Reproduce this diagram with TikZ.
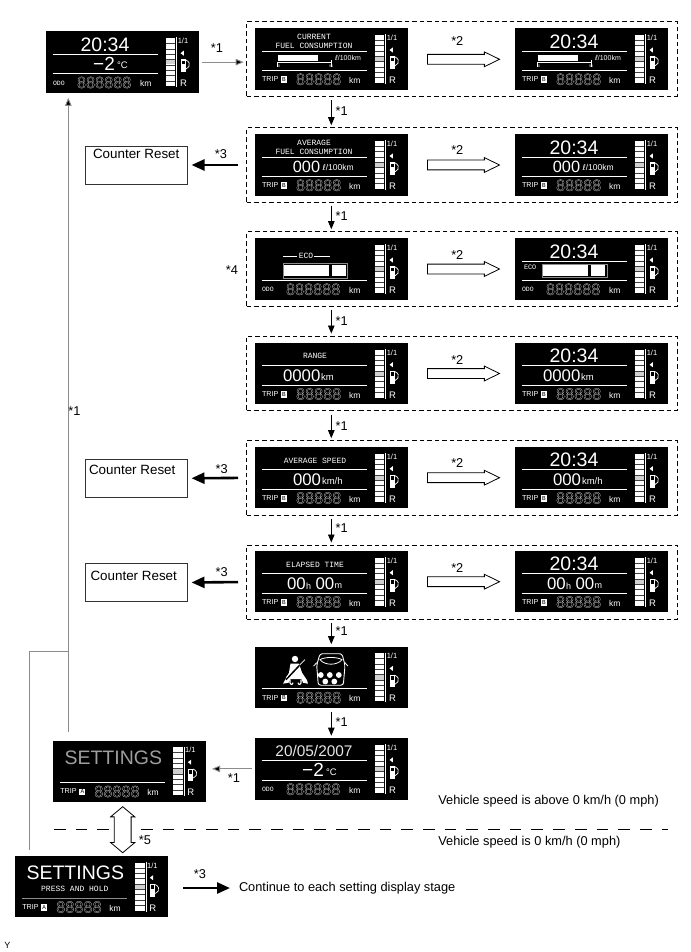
\documentclass[tikz,border=0pt]{standalone}
\usepackage{fontspec}
\usetikzlibrary{arrows.meta,shapes.arrows}
\setmainfont{Liberation Sans}
\newfontfamily\monof{Liberation Mono}
\newfontfamily\symf{DejaVu Sans}
\newcommand\fs[1]{\fontsize{#1}{#1}\selectfont}
\newcommand\outl[1]{\special{pdf:code q 1 Tr 0.22 w}#1\special{pdf:code Q}}
\definecolor{lineg}{HTML}{8C8C8C}
\definecolor{dimw}{HTML}{D0D0D0}
\newcounter{tc}
\tikzset{
  txt/.style={inner sep=0,outer sep=0,text=white},
  lab/.style={inner sep=0,outer sep=0,text=black,font=\fs{12.8}},
  screenbox/.style={fill=black,draw=none,minimum width=153,minimum height=61.3,inner sep=0,outer sep=0,anchor=north west},
  dbox/.style={draw=black,line width=0.9,dash pattern=on 4.5 off 3,minimum width=430.5,inner sep=0,outer sep=0},
  crbox/.style={draw=black!80,line width=0.9,fill=white,minimum width=102,minimum height=38,inner sep=0,outer sep=0},
  blk/.style={draw=black,line width=0.9,-{Triangle[length=8,width=6.5]},shorten <=4,shorten >=2.5},
  gry/.style={draw=lineg,line width=0.9,-{Triangle[length=8,width=6.5,fill=black]}},
  thk/.style={draw=black,line width=2.6,-{Triangle[length=13,width=11]}},
  hollow/.style={single arrow,draw=black,line width=0.8,fill=white,inner sep=0,outer sep=0,minimum width=0,minimum height=72,single arrow head extend=2.5,single arrow tip angle=52},
  hollowd/.style={double arrow,draw=black,line width=0.8,fill=white,inner sep=0,outer sep=0,minimum width=0,minimum height=46,double arrow head extend=3.7,double arrow tip angle=100,shape border rotate=90}
}
\newcommand\tx[4][]{\stepcounter{tc}\node[txt,name=t\arabic{tc},#1] at (#2,#3) {#4};}
\newcommand\lb[3]{\stepcounter{tc}\node[lab,name=t\arabic{tc}] at (#1,#2) {#3};}
% gauge common to all screens
\newcommand\gauge{%
  \fill[white] (120,6.7) rectangle (129.3,54.7);
  \fill[dimw] (120,28) rectangle (129.3,33);
  \foreach \i in {1,...,8}{\fill[black!75] (120,{6.7+\i*5.33-0.3}) rectangle (129.3,{6.7+\i*5.33+0.3});}
  \draw[white,line width=0.8] (130.7,6) -- (130.7,55.5);
  \tx{137}{9.5}{\fs{7.5}1/1}
  \fill[white] (134.5,21.7) -- (137.8,19.2) -- (137.8,24.2) -- cycle;
  \fill[white] (134.5,28) rectangle (139.8,40.5);
  \fill[black] (135.6,29.3) rectangle (138.7,33);
  \draw[white,line width=0.7] (139.8,28.5) .. controls (143.5,30) and (144,33) .. (143,35) -- (140,37.5);
  \tx{137.5}{52}{\fs{9.5}R}
}
\newcommand\lines[2]{\draw[white,line width=0.9] (6.5,#1) -- (112,#1); \draw[white,line width=0.9] (6.5,#2) -- (112,#2);}
\newcommand\lowline[1][white]{\draw[#1,line width=0.9] (6.5,42) -- (112,42);}
\newcommand\lett[1]{\fill[white] (26,48) rectangle (32,54.5); \tx{29}{51.3}{\color{black}\fs{6}\monof #1}}
\newcommand\trip[1]{%
  \tx[anchor=west]{7}{51}{\fs{7.2}TRIP}
  \lett{#1}
  \tx[anchor=west]{41}{51}{\color{white!90!black}\fs{16.3}\outl{88888}}
  \tx[anchor=west]{94}{52}{\fs{8.5}km}
}
\newcommand\odo{%
  \tx[anchor=west]{7}{51.5}{\fs{6.5}\monof ODO}
  \tx[anchor=west]{31}{51}{\color{white!90!black}\fs{16.3}\outl{888888}}
  \tx[anchor=west]{94}{52}{\fs{8.5}km}
}
\newcommand\clock{\tx{59}{13}{\fs{19.5}20:34}}
\newcommand\mt[3]{\tx{#1}{#2}{\monof\fs{8}#3}}
\newcommand\scr[4]{%
  \node[screenbox] (#1) at (#2,#3) {};
  \begin{scope}[shift={(#2,#3)}]\gauge #4\end{scope}
}
\newcommand\fuelbar{%
  \fill[white] (23,27) rectangle (63,33);
  \draw[white,line width=0.7] (23,34) -- (76,34);
  \fill[white] (22.3,34) rectangle (23.3,39); \fill[white] (75.5,32) rectangle (76.5,39);
  \tx{24}{37.5}{\fs{3.5}0}\tx{76}{37.5}{\fs{3.5}90}
  \tx[anchor=west]{80}{30}{\fs{7}{\symf\fs{7}ℓ}/100km}
}
\newcommand\ecobig{%
  \draw[lineg,line width=0.7] (28,25) rectangle (92,40);
  \fill[white] (29,27) rectangle (74,38); \fill[white] (77,27) rectangle (91,38);
}
\newcommand\ecosmall{%
  \draw[lineg,line width=0.7] (27,26) rectangle (92,39);
  \fill[white] (28,27) rectangle (73,38); \fill[white] (76,27) rectangle (90,38);
}
\newcommand\dgroup[3]{\node[dbox,minimum height={#3-#2}] (#1) at (461.9,{(#2+#3)/2}) {};}
\newcommand\shaft{\rule{0pt}{9pt}}
\begin{document}
\begin{tikzpicture}[x=1pt,y=-1pt]
\useasboundingbox[fill=white] (0,0) rectangle (690,952);
% dashed groups
\dgroup{d1}{21.7}{96}
\dgroup{d2}{127.7}{202.3}
\dgroup{d3}{231.7}{306.3}
\dgroup{d4}{336}{410.7}
\dgroup{d5}{440.7}{515}
\dgroup{d6}{545}{619}
% screens
\scr{s0}{46}{31.5}{\lines{23}{42}\clock \tx{58}{32}{\fs{19}−2}\tx[anchor=west]{71}{34}{\fs{9.5}°C}\odo}
\scr{s1a}{255}{28.3}{\lines{22.7}{42}\mt{59}{9}{CURRENT}\mt{59}{17.6}{FUEL CONSUMPTION}\fuelbar\trip{B}}
\scr{s1b}{515}{28.3}{\lines{22.7}{42}\clock\fuelbar\trip{B}}
\scr{s2a}{255}{134.3}{\lines{22.7}{42}\mt{59}{9}{AVERAGE}\mt{59}{17.6}{FUEL CONSUMPTION}\tx{51.5}{32.5}{\fs{16.3}000}\tx[anchor=west]{67.5}{33.5}{\fs{8.5}{\symf\fs{8}ℓ}/100km}\trip{B}}
\scr{s2b}{515}{134.3}{\lines{22.7}{42}\clock\tx{51.5}{32.5}{\fs{16.3}000}\tx[anchor=west]{67.5}{33.5}{\fs{8.5}{\symf\fs{8}ℓ}/100km}\trip{B}}
\scr{s3a}{255}{238.3}{\lowline\draw[white,line width=0.5] (28,18) -- (42,18) (59,18) -- (75,18);\mt{51}{18}{ECO}\ecobig\odo}
\scr{s3b}{515}{238.3}{\lines{22.7}{42}\clock\tx[anchor=west]{9}{29}{\monof\fs{6.8}ECO}\ecosmall\odo}
\scr{s4a}{255}{343}{\lines{22.5}{42}\mt{60}{13}{RANGE}\tx[anchor=west]{28}{33}{\fs{16.8}0000}\tx[anchor=west]{66}{34.5}{\fs{9.5}km}\trip{B}}
\scr{s4b}{515}{343}{\lines{22.5}{42}\clock\tx[anchor=west]{28}{33}{\fs{16.8}0000}\tx[anchor=west]{66}{34.5}{\fs{9.5}km}\trip{B}}
\scr{s5a}{255}{447}{\lines{22.7}{42}\mt{60}{13.5}{AVERAGE SPEED}\tx[anchor=west]{38}{33}{\fs{16.8}000}\tx[anchor=west]{67}{34.5}{\fs{9.5}km/h}\trip{B}}
\scr{s5b}{515}{447}{\lines{22.7}{42}\clock\tx[anchor=west]{38}{33}{\fs{16.8}000}\tx[anchor=west]{67}{34.5}{\fs{9.5}km/h}\trip{B}}
\scr{s6a}{255}{551}{\lines{22.7}{42}\mt{60}{13.5}{ELAPSED TIME}\tx[anchor=west]{32}{33}{\fs{16.8}00}\tx[anchor=west]{51}{35}{\fs{9}h}\tx[anchor=west]{60.5}{33}{\fs{16.8}00}\tx[anchor=west]{79.5}{35}{\fs{9}m}\trip{B}}
\scr{s6b}{515}{551}{\lines{22.7}{42}\clock\tx[anchor=west]{32}{33}{\fs{16.8}00}\tx[anchor=west]{51}{35}{\fs{9}h}\tx[anchor=west]{60.5}{33}{\fs{16.8}00}\tx[anchor=west]{79.5}{35}{\fs{9}m}\trip{B}}
\scr{s7}{255}{646.7}{\lowline\trip{B}
  % seated person with belt
  \fill[white] (40,12.3) circle (3.2);
  \fill[white] (35.5,17) -- (44,17) -- (47,26) -- (52,33.5) -- (53,37) -- (48,36) -- (46.5,32.5) -- (35.5,32.5) -- (33.5,36) -- (28,37) -- (34,26) -- cycle;
  \draw[black,line width=1.5] (31,33) -- (47,16);
  \draw[white,line width=0.7] (31,31) -- (33,29) (44.5,18.5) -- (50,13);
  \draw[white,line width=1.1] (35,33) .. controls (34,39) and (38,38.5) .. (38,36) (46,33) .. controls (47,39) and (43,38.5) .. (43,36);
  % car seen from above
  \draw[white,line width=0.9,rounded corners=2.5] (61.7,18.5) -- (65,7) -- (87,7) -- (90,18.5) -- (88.3,38.5) -- (63.3,38.5) -- cycle;
  \draw[white,line width=0.8] (61.7,16) -- (58.5,19.5) (90,16) -- (93,19.5);
  \draw[white,line width=0.8] (65,13) .. controls (70,19) and (82,19) .. (87,13) .. controls (82,10) and (70,10) .. (65,13) -- cycle;
  \foreach \p in {65.8,74.8,83.8}{\fill[white] (\p,28.3) circle (2.9);}
  \foreach \p in {70.3,79.3}{\fill[white] (\p,34.8) circle (2.9);}
}
\scr{s8}{255}{738.2}{\lines{22.7}{42}\tx{59}{13}{\fs{15.4}\color{white!90!black}20/05/2007}\tx{58}{32}{\fs{19}−2}\tx[anchor=west]{71}{34}{\fs{9.5}°C}\odo}
\scr{sg}{53.3}{740.5}{\lowline\tx{60}{17}{\color{white!62!black}\fs{19.5}SETTINGS}\trip{A}}
\scr{st}{15.3}{856}{\lowline[lineg]\tx{60}{17}{\fs{19.5}SETTINGS}\mt{59.5}{33}{PRESS AND HOLD}\trip{A}}
% counter reset boxes
\node[crbox] (c2) at (136,165) {};
\node[crbox] (c5) at (136,478.3) {};
\node[crbox] (c6) at (136,582.5) {};
\node[lab,anchor=base west,font=\fs{13.4}] (c2t) at (93,159) {Counter Reset};
\node[lab,anchor=base west,font=\fs{13.4}] (c5t) at (89,474) {Counter Reset};
\node[lab,anchor=base west,font=\fs{13.4}] (c6t) at (90.5,580) {Counter Reset};
% column coordinates
\coordinate (cx) at (331.3,0);
\coordinate (lx) at (68.3,0);
\coordinate (fx) at (29.3,0);
\coordinate (j) at (68.3,651);
% vertical *1 connectors
\draw[blk] (d1.south -| cx) -- (d2.north -| cx);
\draw[blk] (d2.south -| cx) -- (d3.north -| cx);
\draw[blk] (d3.south -| cx) -- (d4.north -| cx);
\draw[blk] (d4.south -| cx) -- (d5.north -| cx);
\draw[blk] (d5.south -| cx) -- (d6.north -| cx);
\draw[blk] (d6.south -| cx) -- (s7.north -| cx);
\draw[blk] (s7.south -| cx) -- (s8.north -| cx);
% grey connectors
\draw[gry,shorten <=3,shorten >=3] (s0.east) -- (d1.west |- s0.east);
\draw[gry,shorten <=9,shorten >=5] (sg.north -| lx) -- (s0.south -| lx);
\draw[lineg,line width=0.9,shorten <=6] (st.north -| fx) |- (j);
\draw[gry,shorten <=3,shorten >=5.7] (s8.west) -- (sg.east |- s8.west);
% reset arrows
\draw[thk,shorten <=8.5,shorten >=4.5] (d2.west) -- (c2.east);
\draw[thk,shorten <=8.5,shorten >=4.5] (d5.west) -- (c5.east);
\draw[thk,shorten <=8.5,shorten >=4.5] (d6.west) -- (c6.east);
% hollow arrows
\node[hollow] (h1) at (458.5,59.3) {\shaft};
\node[hollow] (h2) at (458.5,165) {\shaft};
\node[hollow] (h3) at (458.5,269) {\shaft};
\node[hollow] (h4) at (458.5,373.5) {\shaft};
\node[hollow] (h5) at (458.5,477.7) {\shaft};
\node[hollow] (h6) at (458.5,581.7) {\shaft};
% speed boundary
\coordinate (b1) at (54,829.3);
\coordinate (b2) at (668,829.3);
\draw[black,line width=0.9,dash pattern=on 11.7 off 10] (b1) -- (b2);
\node[hollowd] (dbl) at (122.7,829.7) {\rule{16pt}{0pt}};
% continue
\node[lab,anchor=west] (ct) at (239,888) {Continue to each setting display stage};
\draw[thk,shorten <=15,shorten >=9] (st.east |- ct.west) -- (ct.west);
\node[lab,anchor=west] (v1) at (438.3,800.7) {Vehicle speed is above 0 km/h (0 mph)};
\node[lab,anchor=west] (v2) at (438.3,841.7) {Vehicle speed is 0 km/h (0 mph)};
% star labels
\lb{341.7}{111}{*1}\lb{341.7}{216}{*1}\lb{341.7}{321}{*1}\lb{341.7}{425.7}{*1}\lb{341.7}{528}{*1}\lb{341.7}{631}{*1}\lb{341.7}{722}{*1}
\lb{217}{48}{*1}\lb{74.5}{411}{*1}\lb{234}{777.7}{*1}
\lb{457.3}{41}{*2}\lb{457.3}{150}{*2}\lb{457.3}{255}{*2}\lb{457.3}{360}{*2}\lb{457.3}{463}{*2}\lb{457.3}{567.7}{*2}
\lb{221}{154}{*3}\lb{221.7}{469}{*3}\lb{221.7}{571.7}{*3}\lb{200}{874}{*3}
\lb{232}{270}{*4}\lb{145}{840}{*5}
\stepcounter{tc}\node[lab,font=\fs{9}] (y) at (7.5,945) {Y};
\end{tikzpicture}
\end{document}
